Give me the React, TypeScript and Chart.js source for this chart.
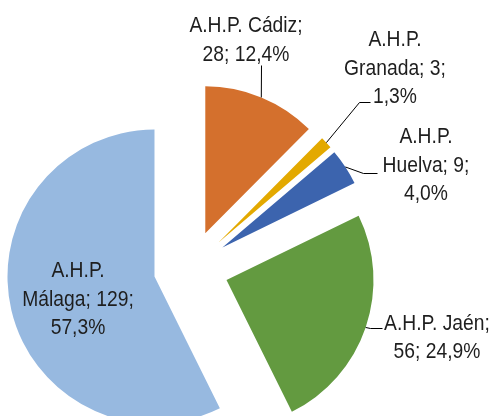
import React, { useEffect, useRef } from "react";
import { Chart, registerables } from "chart.js";

Chart.register(...registerables);

// ---- data ----
const categories = ["A.H.P. Cádiz", "A.H.P. Granada", "A.H.P. Huelva", "A.H.P. Jaén", "A.H.P. Málaga"];
const values = [28, 3, 9, 56, 129];
const colors = ["#D4702D", "#E3A900", "#3C64AE", "#639A40", "#97B9E0"];

// ---- layout / style ----
const explodeOffset = 37.5;
const pieRadius = 147;
const labelFont = '21.2px "Liberation Sans", Arial, sans-serif';
const labelScaleX = 0.91;
const labelColor = "#1e1e1e";
const labelLineHeight = 28.7;
const labelCenterX = [246, 395, 426, 437, 78];
const labelFirstBaseline = [32, 46, 143, 329.5, 277];
const labelMaxWidth = [120, 106, 92, 112, 118];
const leaderPoints: number[][][] = [
  [[261, 65]],
  [[359, 102], [370, 102]],
  [[363, 173], [377, 173]],
  [[370, 328], [382, 328]],
  [],
];

const total = values.reduce((a, b) => a + b, 0);
const fmtPct = (v: number) => ((v / total) * 100).toFixed(1).replace(".", ",") + "%";

function wrap(ctx: CanvasRenderingContext2D, text: string, maxW: number): string[] {
  const words = text.split(" ");
  const lines: string[] = [];
  let cur = "";
  for (const w of words) {
    const test = cur ? cur + " " + w : w;
    if (cur && ctx.measureText(test).width * labelScaleX > maxW) {
      lines.push(cur);
      cur = w;
    } else {
      cur = test;
    }
  }
  if (cur) lines.push(cur);
  return lines;
}

const explodePlugin = {
  id: "explodeSlices",
  beforeDatasetDraw(chart: any, args: any) {
    const ctx = chart.ctx as CanvasRenderingContext2D;
    args.meta.data.forEach((arc: any) => {
      const mid = (arc.startAngle + arc.endAngle) / 2;
      ctx.save();
      ctx.translate(Math.cos(mid) * explodeOffset, Math.sin(mid) * explodeOffset);
      arc.draw(ctx);
      ctx.restore();
    });
    return false;
  },
};

const labelPlugin = {
  id: "sliceLabels",
  afterDraw(chart: any) {
    const ctx = chart.ctx as CanvasRenderingContext2D;
    const meta = chart.getDatasetMeta(0);
    ctx.save();
    meta.data.forEach((arc: any, i: number) => {
      const mid = (arc.startAngle + arc.endAngle) / 2;
      const cx = arc.x + Math.cos(mid) * explodeOffset;
      const cy = arc.y + Math.sin(mid) * explodeOffset;
      const ox = cx + Math.cos(mid) * arc.outerRadius;
      const oy = cy + Math.sin(mid) * arc.outerRadius;
      const pts = leaderPoints[i];
      if (pts.length) {
        ctx.beginPath();
        ctx.strokeStyle = "#000";
        ctx.lineWidth = 1;
        ctx.moveTo(ox, oy);
        pts.forEach((p) => ctx.lineTo(p[0] + 0.5, p[1] + 0.5));
        ctx.stroke();
      }
      ctx.font = labelFont;
      ctx.fillStyle = labelColor;
      ctx.textAlign = "center";
      ctx.textBaseline = "alphabetic";
      const text = `${categories[i]}; ${values[i]}; ${fmtPct(values[i])}`;
      const lines = wrap(ctx, text, labelMaxWidth[i]);
      lines.forEach((ln, k) => {
        ctx.save();
        ctx.translate(labelCenterX[i], labelFirstBaseline[i] + k * labelLineHeight);
        ctx.scale(labelScaleX, 1);
        ctx.fillText(ln, 0, 0);
        ctx.restore();
      });
    });
    ctx.restore();
  },
};

export default function App() {
  const ref = useRef<HTMLCanvasElement | null>(null);
  useEffect(() => {
    document.body.style.margin = "0";
    if (!ref.current) return;
    const chart = new Chart(ref.current, {
      type: "pie",
      data: {
        labels: categories,
        datasets: [
          {
            data: values,
            backgroundColor: colors,
            borderWidth: 0,
          },
        ],
      },
      options: {
        animation: false,
        responsive: false,
        devicePixelRatio: 1,
        radius: pieRadius,
        layout: { padding: { left: 0, right: 114, top: 120, bottom: 0 } },
        plugins: { legend: { display: false }, tooltip: { enabled: false } },
        events: [],
      } as any,
      plugins: [explodePlugin, labelPlugin],
    });
    return () => chart.destroy();
  }, []);
  return (
    <div style={{ position: "fixed", left: 0, top: 0, width: 496, height: 416, background: "#fff" }}>
      <canvas ref={ref} width={496} height={416} style={{ display: "block" }} />
    </div>
  );
}
